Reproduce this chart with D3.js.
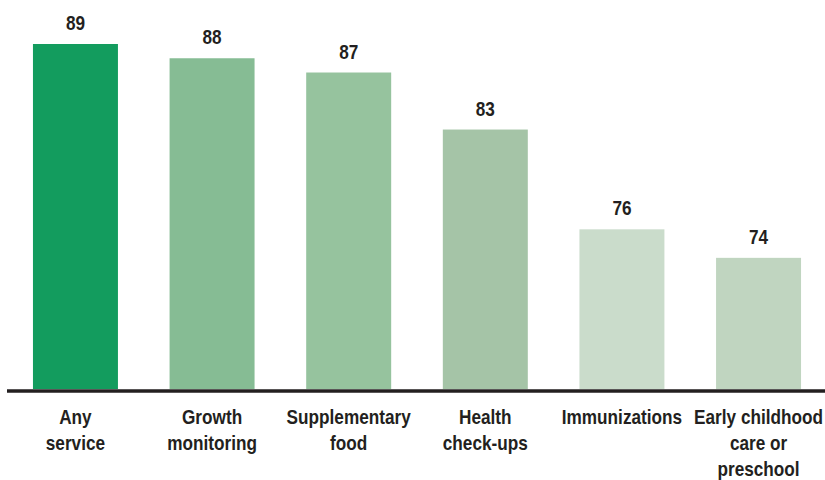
<!DOCTYPE html>
<html lang="en">
<head>
    <meta charset="UTF-8">
    <title>Services bar chart</title>
    <script src="https://d3js.org/d3.v7.min.js"></script>
    <style>
        body { margin: 0; background: #fff; }
        text {
            font-family: "Liberation Sans", Arial, sans-serif;
            font-weight: bold;
            fill: #231f20;
        }
    </style>
</head>
<body>
    <svg width="825" height="480"></svg>
    <script>
        // Data
        const categories = [
            ["Any", "service"],
            ["Growth", "monitoring"],
            ["Supplementary", "food"],
            ["Health", "check-ups"],
            ["Immunizations"],
            ["Early childhood", "care or", "preschool"]
        ];
        const values = [89, 88, 87, 83, 76, 74];
        const colors = ["#139c5e", "#86bc94", "#96c39e", "#a5c4a7", "#cadccb", "#c0d5c0"];

        const svg = d3.select("svg");
        const baseY = 389;
        const squeeze = 0.86; // fake a condensed face

        const x = d3.scaleBand()
            .domain(d3.range(values.length))
            .range([7, 827])
            .paddingInner(0.378)
            .paddingOuter(0.19);

        const y = d3.scaleLinear()
            .domain([64.8, 89])
            .range([baseY, 44]);

        // Bars
        svg.selectAll("rect.bar")
            .data(values)
            .join("rect")
            .attr("class", "bar")
            .attr("x", (d, i) => x(i))
            .attr("y", d => y(d))
            .attr("width", x.bandwidth())
            .attr("height", d => baseY - y(d))
            .attr("fill", (d, i) => colors[i]);

        // Value labels
        svg.selectAll("text.val")
            .data(values)
            .join("text")
            .attr("class", "val")
            .attr("transform", (d, i) => `translate(${x(i) + x.bandwidth() / 2},${y(d) - 14}) scale(${squeeze},1)`)
            .attr("text-anchor", "middle")
            .style("font-size", "20px")
            .text(d => d);

        // Baseline
        svg.append("line")
            .attr("x1", 7).attr("x2", 825)
            .attr("y1", baseY + 2).attr("y2", baseY + 2)
            .attr("stroke", "#231f20")
            .attr("stroke-width", 3.5);

        // Category labels
        const lab = svg.selectAll("text.cat")
            .data(categories)
            .join("text")
            .attr("class", "cat")
            .attr("text-anchor", "middle")
            .style("font-size", "20px")
            .attr("transform", (d, i) => `translate(${x(i) + x.bandwidth() / 2},424) scale(${squeeze},1)`);

        lab.selectAll("tspan")
            .data(d => d)
            .join("tspan")
            .attr("x", 0)
            .attr("y", (d, j) => j * 26)
            .text(d => d);
    </script>
</body>
</html>
